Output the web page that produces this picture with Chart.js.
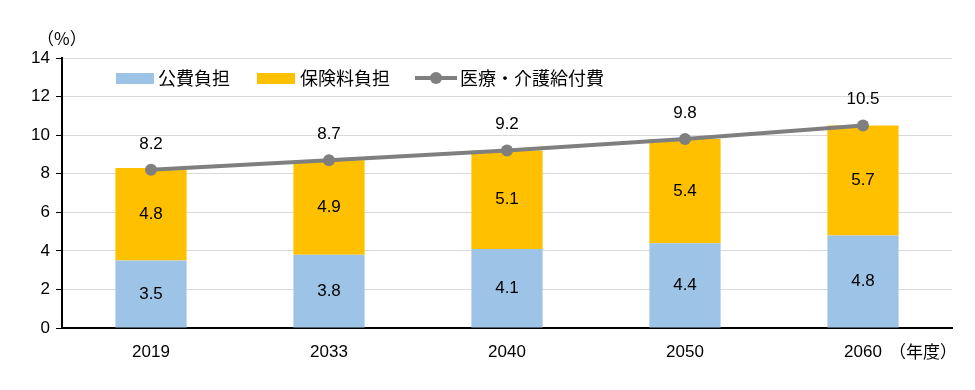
<!DOCTYPE html>
<html><head><meta charset="utf-8">
<script src="https://cdn.jsdelivr.net/npm/chart.js@4/dist/chart.umd.min.js"></script>
<style>html,body{margin:0;padding:0;background:#fff}#wrap{width:975px;height:390px}</style>
</head><body><div id="wrap"><canvas id="c" width="975" height="390"></canvas></div>
<script>
const categories = ['2019','2033','2040','2050','2060'];
const publicBurden = [3.5,3.8,4.1,4.4,4.8];
const insuranceBurden = [4.8,4.9,5.1,5.4,5.7];
const totalCost = [8.2,8.7,9.2,9.8,10.5];
const seriesNames = ['公費負担','保険料負担','医療・介護給付費'];
const yTicks = [0,2,4,6,8,10,12,14];

const LAT = '"Liberation Sans", Arial, sans-serif';
const JP = '"Noto Sans CJK JP", "Liberation Sans", sans-serif';

const overlay = {
  id:'overlay',
  afterDatasetsDraw(chart){
    const ctx = chart.ctx;
    ctx.save();
    ctx.fillStyle = '#000';
    ctx.textAlign='center'; ctx.textBaseline='middle';
    ctx.font = '17px '+LAT;
    [0,1].forEach(di=>{
      const meta = chart.getDatasetMeta(di);
      meta.data.forEach((el,i)=>{
        const p = el.getProps(['x','y','base'],true);
        ctx.fillText(chart.data.datasets[di].data[i].toFixed(1), p.x, (p.y+p.base)/2);
      });
    });
    const lm = chart.getDatasetMeta(2);
    lm.data.forEach((el,i)=>{
      ctx.fillText(totalCost[i].toFixed(1), el.x, el.y-26);
    });
    // legend
    const ly = 78;
    ctx.textAlign='left';
    ctx.font = '18px '+JP;
    ctx.fillStyle='#9DC3E6'; ctx.fillRect(116, ly-5, 38, 11);
    ctx.fillStyle='#000'; ctx.fillText(seriesNames[0], 158, ly);
    ctx.fillStyle='#FFC000'; ctx.fillRect(257, ly-5, 38, 11);
    ctx.fillStyle='#000'; ctx.fillText(seriesNames[1], 300, ly);
    ctx.strokeStyle='#7F7F7F'; ctx.lineWidth=4; ctx.beginPath(); ctx.moveTo(415,ly); ctx.lineTo(457,ly); ctx.stroke();
    ctx.fillStyle='#7F7F7F'; ctx.beginPath(); ctx.arc(436,ly,6,0,Math.PI*2); ctx.fill();
    ctx.fillStyle='#000'; ctx.fillText(seriesNames[2], 460, ly);
    // unit labels
    ctx.font = '17px '+JP;
    ctx.fillText('（%）', 37, 39);
    ctx.fillText('（年度）', 889, 352);
    ctx.restore();
  }
};

new Chart(document.getElementById('c'), {
  type:'bar',
  data:{
    labels:categories,
    datasets:[
      {type:'bar',label:seriesNames[0],data:publicBurden,backgroundColor:'#9DC3E6',stack:'b',order:2,barPercentage:0.8,categoryPercentage:0.5},
      {type:'bar',label:seriesNames[1],data:insuranceBurden,backgroundColor:'#FFC000',stack:'b',order:2,barPercentage:0.8,categoryPercentage:0.5},
      {type:'line',label:seriesNames[2],data:totalCost,borderColor:'#7F7F7F',backgroundColor:'#7F7F7F',borderWidth:4,pointRadius:6,pointBackgroundColor:'#7F7F7F',pointBorderWidth:0,stack:'l',order:0,tension:0}
    ]
  },
  options:{
    responsive:false, animation:false,
    layout:{padding:{left:0,right:23,top:58,bottom:0}},
    plugins:{legend:{display:false},tooltip:{enabled:false}},
    scales:{
      x:{stacked:true,
        grid:{display:true,drawOnChartArea:false,drawTicks:false},
        border:{color:'#000',width:2},
        ticks:{color:'#000',font:{family:LAT,size:17},padding:14,maxRotation:0},
        afterFit(s){s.height=62;}
      },
      y:{stacked:true,min:0,max:14,
        afterBuildTicks(s){s.ticks=yTicks.map(v=>({value:v}));},
        grid:{color:'#D9D9D9',lineWidth:1,tickColor:'#000',tickLength:6,drawTicks:true},
        border:{color:'#000',width:2},
        ticks:{color:'#000',font:{family:LAT,size:17},padding:6},
        afterFit(s){s.width=62;}
      }
    }
  },
  plugins:[overlay]
});
</script></body></html>
